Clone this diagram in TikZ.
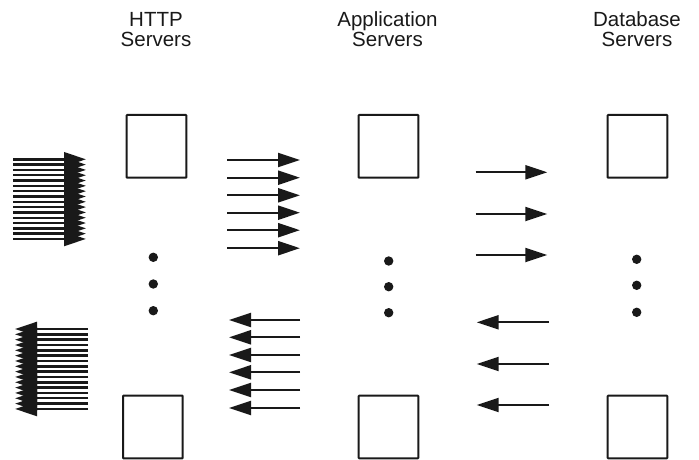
\documentclass[tikz,border=0pt]{standalone}
\usepackage{fontspec}
\setmainfont{Liberation Sans}
\usetikzlibrary{arrows.meta}
\begin{document}
\begin{tikzpicture}[x=1pt,y=-1pt,
  server/.style={draw=black!90,line width=2pt,minimum width=59.6pt,minimum height=62.7pt,inner sep=0pt,rounded corners=0.6pt},
  dotmark/.style={fill=black!90,circle,minimum size=9.4pt,inner sep=0pt},
  arr/.style={draw=black!90,line width=2.2pt,-{Triangle[length=22pt,width=14pt]}},
  stackarr/.style={arr,line width=2.4pt,-{Triangle[length=22pt,width=14pt]}},
  hdr/.style={align=center,font=\fontsize{20.5}{20}\selectfont,text=black!90,anchor=base}]
\useasboundingbox (0,0) rectangle (699,460);
% headers
\node[hdr] (h1) at (156,47) {HTTP\\Servers};
\node[hdr] (h2) at (387.5,47) {Application\\Servers};
\node[hdr] (h3) at (637,47) {Database\\Servers};
% servers
\node[server] (ht) at (156.5,146.3) {};
\node[server] (hb) at (152.8,427) {};
\node[server] (at) at (388.5,146.3) {};
\node[server] (ab) at (388.5,427) {};
\node[server] (dt) at (637.5,146.3) {};
\node[server] (db) at (637.5,427) {};
% dots
\foreach \i/\y in {1/257.3,2/284,3/310.7} \node[dotmark] (hd\i) at (153.3,\y) {};
\foreach \i/\y in {1/261,2/286.7,3/312.7} \node[dotmark] (ad\i) at (388.7,\y) {};
\foreach \i/\y in {1/259.3,2/285.3,3/312.3} \node[dotmark] (dd\i) at (636.7,\y) {};
% incoming requests (left stack)
\foreach \i in {0,...,15} {
  \coordinate (ia\i) at (13,159.3+\i*5.31);
  \coordinate (ib\i) at (86,159.3+\i*5.31);
  \draw[stackarr] (ia\i) -- (ib\i);
}
\foreach \i in {0,...,15} {
  \coordinate (oa\i) at (88,329+\i*5.33);
  \coordinate (ob\i) at (15,329+\i*5.33);
  \draw[stackarr] (oa\i) -- (ob\i);
}
% HTTP <-> App
\foreach \i/\y in {1/160,2/177.7,3/195.3,4/212.7,5/230.2,6/248.2} {
  \coordinate (ma\i) at (227,\y);
  \coordinate (mb\i) at (300,\y);
  \draw[arr] (ma\i) -- (mb\i);
}
\foreach \i/\y in {1/320,2/337.3,3/355,4/372.3,5/390,6/408} {
  \coordinate (na\i) at (300,\y);
  \coordinate (nb\i) at (229,\y);
  \draw[arr] (na\i) -- (nb\i);
}
% App <-> DB
\foreach \i/\y in {1/172.3,2/214,3/255} {
  \coordinate (ra\i) at (475.7,\y);
  \coordinate (rb\i) at (547.3,\y);
  \draw[arr] (ra\i) -- (rb\i);
}
\foreach \i/\y in {1/322.3,2/364,3/405} {
  \coordinate (la\i) at (549,\y);
  \coordinate (lb\i) at (476.7,\y);
  \draw[arr] (la\i) -- (lb\i);
}
\end{tikzpicture}
\end{document}
